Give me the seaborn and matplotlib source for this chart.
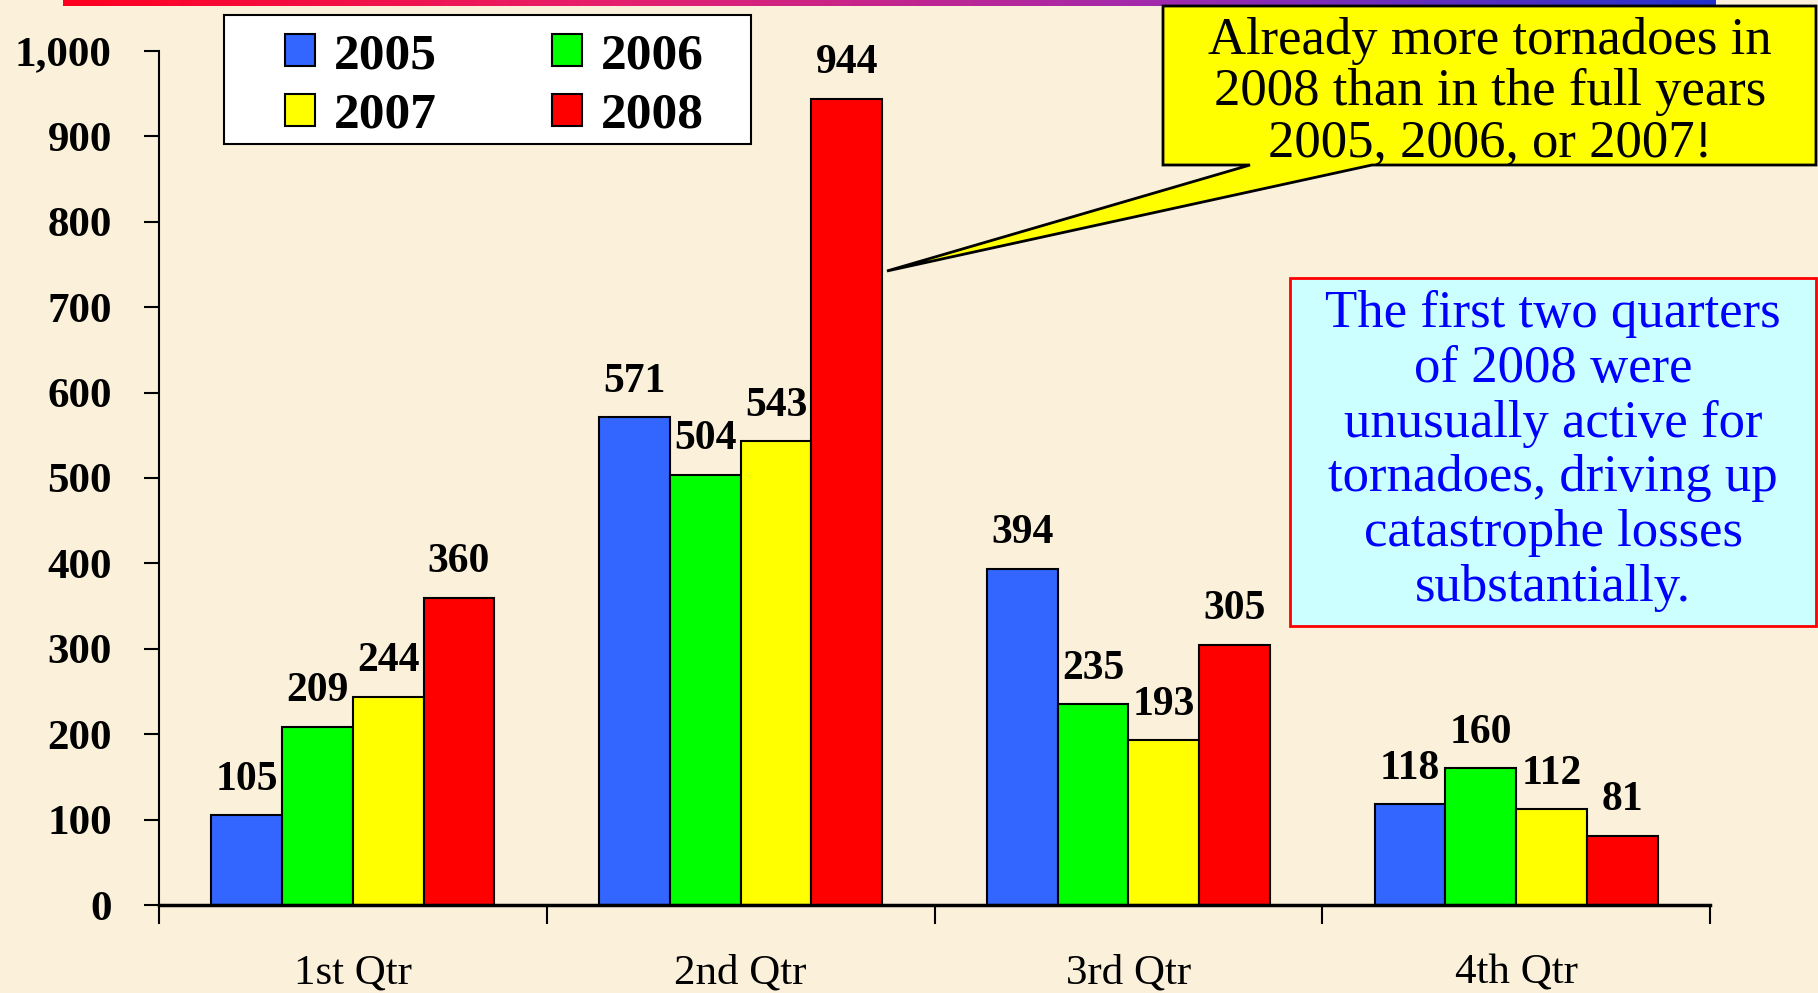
import numpy as np
import pandas as pd
import matplotlib
matplotlib.use('Agg')
import matplotlib.pyplot as plt
import seaborn as sns
from matplotlib.patches import Patch, Polygon, Rectangle
from matplotlib.colors import LinearSegmentedColormap

# datos
quarters = ['1st Qtr', '2nd Qtr', '3rd Qtr', '4th Qtr']
years = ['2005', '2006', '2007', '2008']
counts_2005 = [105, 571, 394, 118]
counts_2006 = [209, 504, 235, 160]
counts_2007 = [244, 543, 193, 112]
counts_2008 = [360, 944, 305, 81]
year_colors = ['#3366FF', '#00FF00', '#FFFF00', '#FF0000']

callout_text = 'Already more tornadoes in\n2008 than in the full years\n2005, 2006, or 2007!'
note_text = ('The first two quarters\nof 2008 were\nunusually active for\n'
             'tornadoes, driving up\ncatastrophe losses\nsubstantially.')

df = pd.DataFrame({
    'quarter': quarters * 4,
    'year': np.repeat(years, 4),
    'count': counts_2005 + counts_2006 + counts_2007 + counts_2008,
})

sns.set_style('ticks')
plt.rcParams['font.family'] = ['Liberation Serif', 'DejaVu Serif']
plt.rcParams['text.color'] = 'black'
plt.rcParams['xtick.labelcolor'] = 'black'
plt.rcParams['ytick.labelcolor'] = 'black'

W, H = 1818, 993
bg = '#FBF1DA'
fig = plt.figure(figsize=(W / 100, H / 100), dpi=100, facecolor=bg)


def fx(px):
    return px / W


def fy(py):
    return 1 - py / H


ax = fig.add_axes([fx(159), fy(905), fx(1710) - fx(159), fy(51) - fy(905)])
ax.set_facecolor(bg)

sns.barplot(data=df, x='quarter', y='count', hue='year', hue_order=years,
            order=quarters, palette=year_colors, saturation=1, width=0.73,
            edgecolor='black', linewidth=1.5, legend=False, ax=ax)

for cont in ax.containers:
    ax.bar_label(cont, padding=12, fontsize=30, fontweight='bold', color='black')

ax.set_ylim(0, 1000)
ax.set_xlim(-0.5, 3.5)
ax.set_yticks(np.arange(0, 1001, 100))
ax.yaxis.set_major_formatter(matplotlib.ticker.StrMethodFormatter('{x:,.0f}'))
ax.set_xlabel('')
ax.set_ylabel('')
ax.set_xticks([-0.5, 0.5, 1.5, 2.5, 3.5], minor=True)
ax.tick_params(axis='x', which='major', length=0, pad=35, labelsize=31)
ax.tick_params(axis='x', which='minor', length=14, width=1.5, direction='out', color='black')
ax.tick_params(axis='y', length=11, width=1.5, direction='out', pad=23, labelsize=31, color='black')
for lab in ax.get_yticklabels():
    lab.set_fontweight('bold')
sns.despine(ax=ax)
ax.spines['left'].set_linewidth(1.5)
ax.spines['bottom'].set_linewidth(2.5)
ax.spines['left'].set_color('black')
ax.spines['bottom'].set_color('black')

# leyenda (orden por filas: 2005 2006 / 2007 2008), marco dibujado aparte
fig.patches.append(Rectangle((fx(224), fy(144)), fx(751) - fx(224), fy(15) - fy(144),
                             transform=fig.transFigure, facecolor='white',
                             edgecolor='black', linewidth=1.5, zorder=3))
handles = [Patch(facecolor=c, edgecolor='black', linewidth=1.5) for c in year_colors]
order = [0, 2, 1, 3]
leg = ax.legend([handles[i] for i in order], [years[i] for i in order], ncol=2,
                loc='center left', bbox_to_anchor=(fx(285), fy(86)),
                bbox_transform=fig.transFigure, frameon=False, borderaxespad=0,
                prop={'size': 37, 'weight': 'bold'}, handlelength=0.58,
                handleheight=0.6, handletextpad=0.37, columnspacing=2.24,
                labelspacing=0.27, borderpad=0)
leg.set_zorder(4)
leg.remove()
fig.add_artist(leg)

# barra de degradado arriba
gax = fig.add_axes([fx(63), fy(6), fx(1716) - fx(63), fy(0) - fy(6)])
cmap = LinearSegmentedColormap.from_list('top', ['#FF0020', '#E6206E', '#A02AAE', '#2232CC'])
gax.imshow(np.linspace(0, 1, 256)[None, :], aspect='auto', cmap=cmap)
gax.axis('off')

# globo amarillo
pts = [(1163, 6), (1816, 6), (1816, 165), (1372, 165), (887, 271), (1250, 165), (1163, 165)]
fig.patches.append(Polygon([(fx(x), fy(y)) for x, y in pts], closed=True,
                           transform=fig.transFigure, facecolor='#FFFF00',
                           edgecolor='black', linewidth=2, zorder=5))
fig.text(fx(1490), fy(92), callout_text, ha='center', va='center', fontsize=38,
         linespacing=1.08, color='black', zorder=6)

# recuadro azul
fig.patches.append(Rectangle((fx(1290), fy(626)), fx(1816) - fx(1290), fy(278) - fy(626),
                             transform=fig.transFigure, facecolor='#CCFFFF',
                             edgecolor='#FF0000', linewidth=2, zorder=5))
fig.text(fx(1553), fy(451), note_text, ha='center', va='center', fontsize=38,
         linespacing=1.185, color='#0000FF', zorder=6)

fig.savefig('out.png', dpi=100, facecolor=bg)
